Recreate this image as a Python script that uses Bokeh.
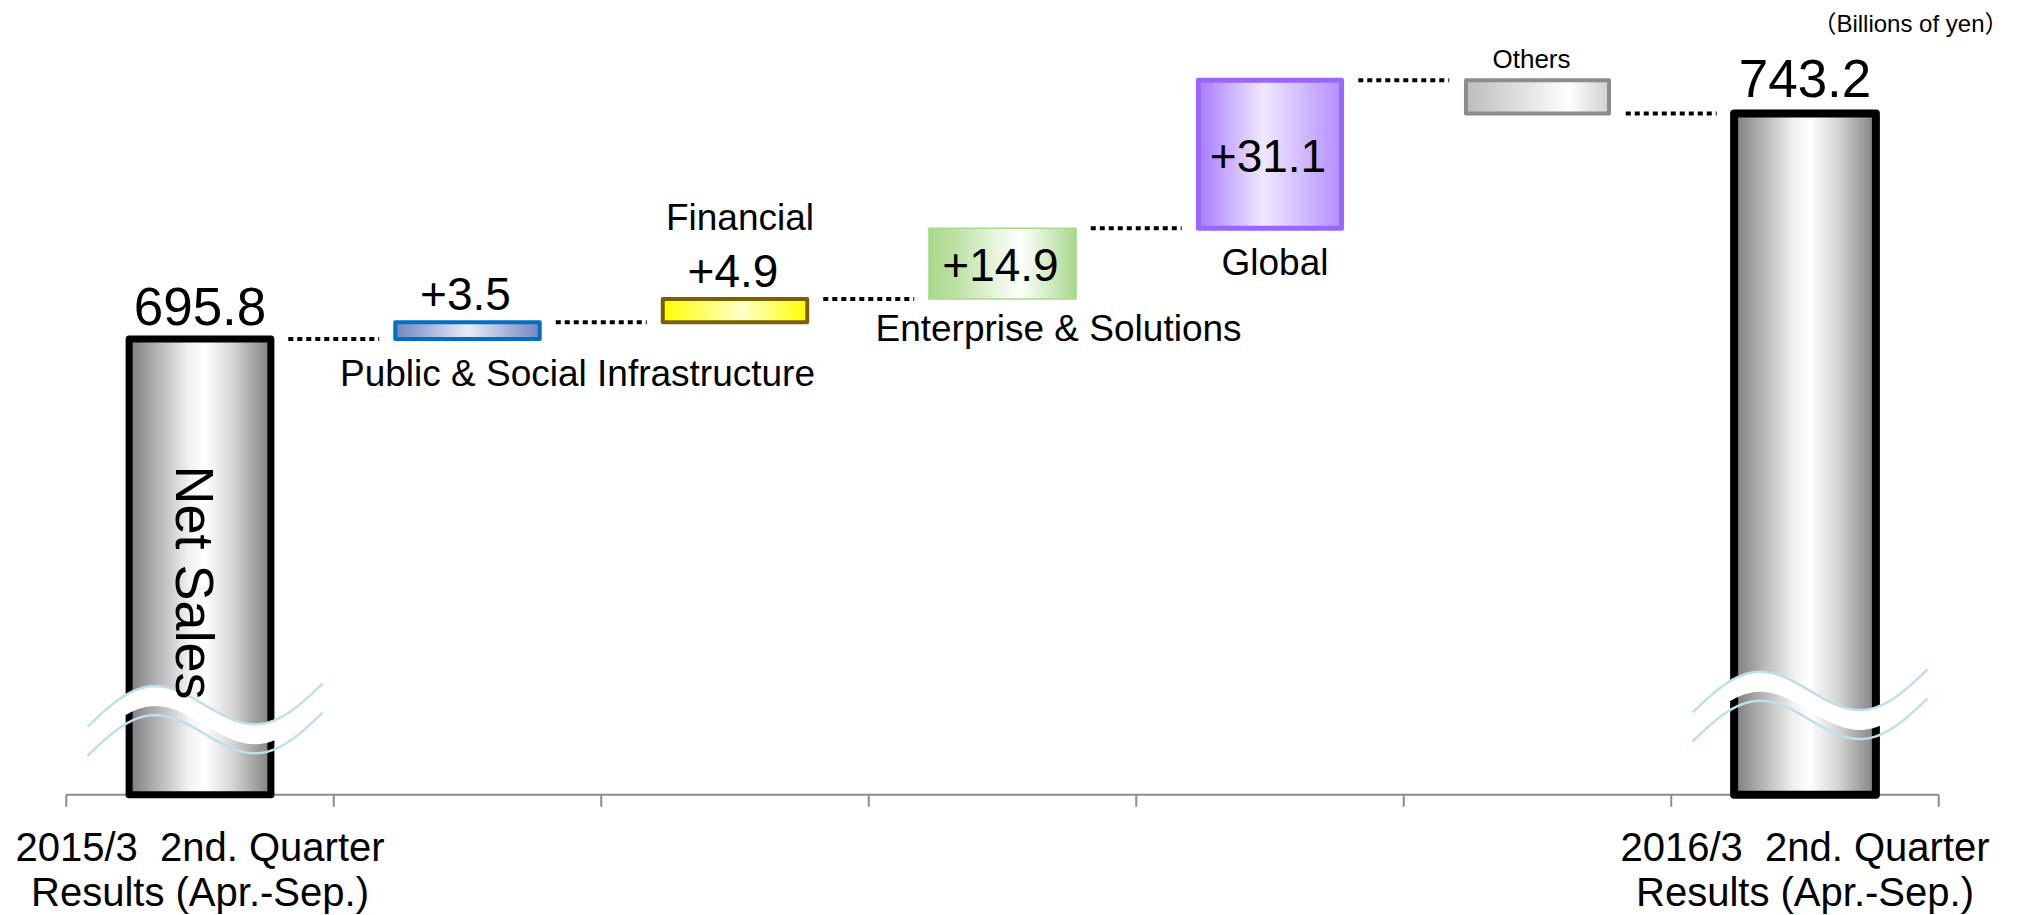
import numpy as np
from bokeh.plotting import figure
from bokeh.models import Range1d
from bokeh.core.properties import value
from bokeh.embed import file_html
from bokeh.resources import INLINE

# ---------------- data ----------------
start_label = ["2015/3\u00a0\u00a02nd. Quarter", "Results (Apr.-Sep.)"]
end_label = ["2016/3\u00a0\u00a02nd. Quarter", "Results (Apr.-Sep.)"]
segments = ["Public & Social Infrastructure", "Financial", "Enterprise & Solutions", "Global", "Others"]
start_total = 695.8
end_total = 743.2
deltas = [3.5, 4.9, 14.9, 31.1, -7.0]
delta_labels = ["+3.5", "+4.9", "+14.9", "+31.1", ""]
total_labels = ["695.8", "743.2"]
unit_note = "\uff08Billions of yen\uff09"
bar_title = "Net Sales"
axis_base = 600.0

# ---------------- layout constants ----------------
W, H = 2018, 915
PXX = 1 / 267.5      # data units per pixel (x)
PXY = 1 / 4.757      # data units per pixel (y)
FONT = value("Liberation Sans")
BASE_FIX = 0.33      # em correction so that the glyph baseline sits at the anchor


def up(fs):
    return BASE_FIX * fs * PXY


p = figure(width=W, height=H, x_range=Range1d(-65.75 * PXX, (W - 65.75) * PXX),
           y_range=Range1d(743.2 - (H - 113) * PXY, 743.2 + 113 * PXY),
           output_backend="svg", toolbar_location=None, min_border=0,
           x_axis_type=None, y_axis_type=None)
p.grid.visible = False
p.outline_line_color = None
p.background_fill_color = "white"
p.border_fill_color = "white"

n = len(segments) + 2
centers = np.arange(n) + 0.5
levels = start_total + np.cumsum([0.0] + deltas)   # running totals


def hex_rgb(h):
    h = h.lstrip("#")
    return [int(h[i:i + 2], 16) for i in (0, 2, 4)]


def gradient(stops, cols=240):
    pos = np.array([s[0] for s in stops])
    rgb = np.array([hex_rgb(s[1]) for s in stops], dtype=float)
    t = np.linspace(0, 1, cols)
    img = np.empty((1, cols), dtype=np.uint32)
    view = img.view(dtype=np.uint8).reshape((1, cols, 4))
    for ch in range(3):
        view[0, :, ch] = np.interp(t, pos, rgb[:, ch]).round().astype(np.uint8)
    view[0, :, 3] = 255
    return img


# ---------------- axis (line + ticks) ----------------
p.segment(x0=[0], y0=[axis_base], x1=[n], y1=[axis_base], line_color="#8c8c8c", line_width=2)
ticks = np.arange(n + 1)
p.segment(x0=ticks, y0=[axis_base] * len(ticks), x1=ticks, y1=[axis_base - 12 * PXY] * len(ticks),
          line_color="#8c8c8c", line_width=2)

# ---------------- bars ----------------
total_stops = [(0, "#7d7d7d"), (0.2, "#b5b5b5"), (0.42, "#f2f2f2"), (0.53, "#ffffff"),
               (0.72, "#d8d8d8"), (0.88, "#a4a4a4"), (1, "#808080")]
seg_styles = [
    dict(stops=[(0, "#7386c4"), (0.5, "#e8ebf6"), (1, "#7386c4")], line="#0070c0", lw=4, w=0.54),
    dict(stops=[(0, "#ffff00"), (0.55, "#ffffcc"), (1, "#ffff00")], line="#7f6000", lw=4, w=0.54),
    dict(stops=[(0, "#a9d98b"), (0.15, "#b9e09f"), (0.62, "#ffffff"), (1, "#a9d98b")], line="#a9d98b", lw=1.5, w=0.55),
    dict(stops=[(0, "#a87cff"), (0.45, "#f0e9ff"), (1, "#b48eff")], line="#9966ff", lw=5, w=0.535),
    dict(stops=[(0, "#bdbdbd"), (0.55, "#efefef"), (0.72, "#ffffff"), (1, "#cfcfcf")], line="#8c8c8c", lw=4, w=0.535),
]

total_vals = [start_total, end_total]
total_idx = [0, n - 1]
TW = 0.53
for k, (ci, tv) in enumerate(zip(total_idx, total_vals)):
    c = centers[ci]
    p.image_rgba(image=[gradient(total_stops)], x=c - TW / 2, y=axis_base, dw=TW, dh=tv - axis_base)
    p.quad(left=[c - TW / 2], right=[c + TW / 2], bottom=[axis_base], top=[tv],
           fill_color=None, line_color="black", line_width=7 if k == 0 else 8, line_join="round")

for i, st in enumerate(seg_styles):
    c = centers[i + 1]
    lo, hi = min(levels[i], levels[i + 1]), max(levels[i], levels[i + 1])
    w = st["w"]
    p.image_rgba(image=[gradient(st["stops"])], x=c - w / 2, y=lo, dw=w, dh=hi - lo)
    p.quad(left=[c - w / 2], right=[c + w / 2], bottom=[lo], top=[hi],
           fill_color=None, line_color=st["line"], line_width=st["lw"], line_join="round")


# ---------------- break marks on total bars ----------------
def break_mark(c, y0):
    t = np.linspace(0, 1, 120)
    x = c - 0.42 + 0.878 * t
    y = y0 + (43 * t + 29 * np.sin(2 * np.pi * t)) * PXY
    band_low = y - 20 * PXY
    p.patch(np.concatenate([x, x[::-1]]), np.concatenate([y, band_low[::-1]]),
            fill_color="white", line_color=None)
    p.line(x, y, line_color="#bfe0ea", line_width=2.5)
    p.line(x, y - 29 * PXY, line_color="#bfe0ea", line_width=2.5)


break_mark(centers[0], 614.3)
break_mark(centers[-1], 617.3)

# ---------------- connectors ----------------
cx0 = centers[:-1] + 0.33
cx1 = centers[1:] - 0.33
p.segment(x0=cx0, y0=levels, x1=cx1, y1=levels, line_color="black", line_width=4,
          line_dash="5 4", line_cap="butt")

# ---------------- texts ----------------
# totals
p.text(x=[centers[0], centers[-1]],
       y=[start_total + 15 * PXY + up(53), end_total + 18 * PXY + up(53)], text=total_labels,
       text_font=FONT, text_font_size="53px", text_align="center", text_baseline="alphabetic",
       text_color="black")

# delta labels: above thin bars, inside the tall ones
dx, dy = [], []
for i, lab in enumerate(delta_labels):
    lo, hi = min(levels[i], levels[i + 1]), max(levels[i], levels[i + 1])
    if (hi - lo) / PXY > 60:
        dy.append((lo + hi) / 2 - 17 * PXY + up(46))
    else:
        dy.append(hi + 13 * PXY + up(46))
    dx.append(centers[i + 1] - 2 * PXX)
p.text(x=dx, y=dy, text=delta_labels, text_font=FONT, text_font_size="46px",
       text_align="center", text_baseline="alphabetic", text_color="black")

# segment names
lo_ = np.minimum(levels[:-1], levels[1:])
hi_ = np.maximum(levels[:-1], levels[1:])
name_x = [centers[1] + 110 * PXX, centers[2] + 5 * PXX, centers[3] + 56 * PXX,
          centers[4] + 5 * PXX, centers[5] - 6 * PXX]
name_y = [lo_[0] - 46.5 * PXY, hi_[1] + 69.5 * PXY, lo_[2] - 41.5 * PXY,
          lo_[3] - 46.5 * PXY, hi_[4] + 12.7 * PXY]
p.text(x=name_x[:4], y=[v + up(37) for v in name_y[:4]], text=segments[:4], text_font=FONT,
       text_font_size="37px", text_align="center", text_baseline="alphabetic", text_color="black")
p.text(x=name_x[4:], y=[v + up(26) for v in name_y[4:]], text=segments[4:], text_font=FONT,
       text_font_size="26px", text_align="center", text_baseline="alphabetic", text_color="black")

# Net Sales (rotated, reading top to bottom)
p.text(x=[centers[0] + (-22.5 + BASE_FIX * 54) * PXX], y=[743.2 - (582 - 113) * PXY], text=[bar_title],
       text_font=FONT, text_font_size="54px", angle=-np.pi / 2, text_align="center",
       text_baseline="alphabetic", text_color="black")

# category labels under axis
for c, lab in ((centers[0], start_label), (centers[-1], end_label)):
    p.text(x=[c, c], y=[axis_base - 65 * PXY + up(40), axis_base - 110 * PXY + up(40)], text=lab,
           text_font=FONT, text_font_size="40px", text_align="center",
           text_baseline="alphabetic", text_color="black")

# unit note
p.text(x=[(2008 - 65.75) * PXX], y=[743.2 + (113 - 31) * PXY + up(24)], text=[unit_note],
       text_font=value("Liberation Sans, Noto Sans CJK JP"),
       text_font_size="24px", text_align="right", text_baseline="alphabetic", text_color="black")

open("out.html", "w").write(file_html(p, INLINE))
